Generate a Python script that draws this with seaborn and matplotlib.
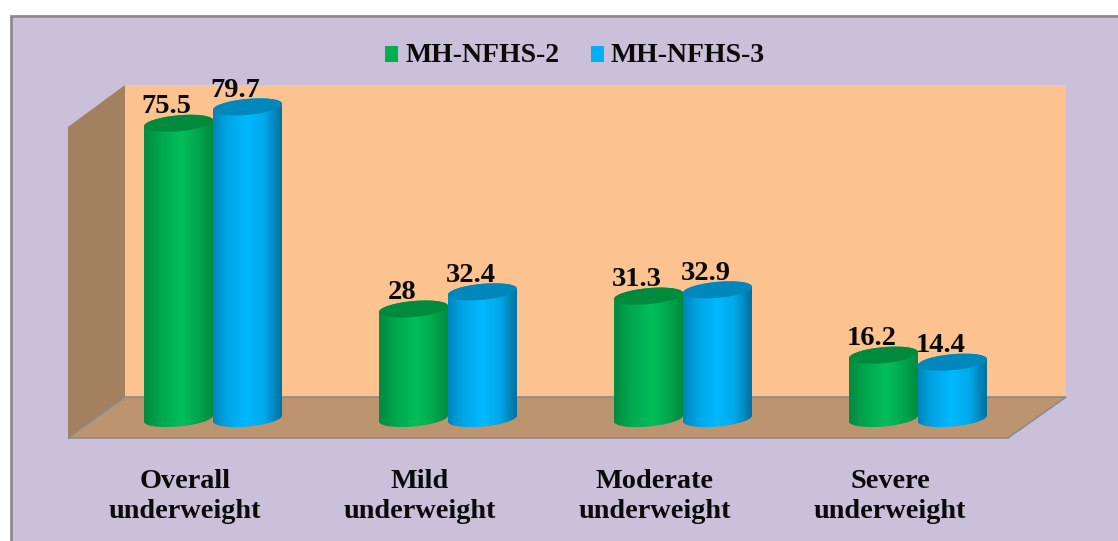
import numpy as np
import pandas as pd
import matplotlib
matplotlib.use("Agg")
import matplotlib.pyplot as plt
from matplotlib.patches import Polygon, Rectangle
from matplotlib.transforms import ScaledTranslation
from matplotlib.colors import LinearSegmentedColormap
import seaborn as sns

# Survey values (per cent)
categories = ["Overall\nunderweight", "Mild\nunderweight", "Moderate\nunderweight", "Severe\nunderweight"]
nfhs2 = [75.5, 28, 31.3, 16.2]
nfhs3 = [79.7, 32.4, 32.9, 14.4]
series_names = ["MH-NFHS-2", "MH-NFHS-3"]

W, H = 1118, 541
PANEL = "#CAC0DA"
WALL = "#FCC28F"
SIDE = "#A38060"
FLOOR = "#BC946F"
EDGE = "#8C8C8C"
SERIF = ["Liberation Serif", "DejaVu Serif"]

shades = {
    "MH-NFHS-2": dict(base="#00B050",
                      ramp=[(0, "#008A40"), (0.25, "#00A84E"), (0.55, "#00BE5A"), (0.8, "#00A54C"), (1, "#008A40")],
                      top="#008A3E"),
    "MH-NFHS-3": dict(base="#00B0F0",
                      ramp=[(0, "#0085BC"), (0.2, "#00A4E4"), (0.5, "#00B8FF"), (0.75, "#00A8EA"), (1, "#006F9C")],
                      top="#0088BC"),
}

sns.set_theme(style="white")
plt.rcParams["font.family"] = SERIF
plt.rcParams["font.weight"] = "bold"


def fx(px):
    return px / W


def fy(py):
    return 1 - py / H


fig = plt.figure(figsize=(W / 100, H / 100), dpi=100, facecolor="white")

# Axes spanning the chart box: x runs 235 px per category, y 3.91 px per percentage point
left, right, top, bottom = 68, 1066, 16, 438
ax = fig.add_axes([fx(left), fy(bottom), fx(right - left), (bottom - top) / H])
ax.patch.set_visible(False)
PX_X, PX_Y = 235.0, 3.91
ORIGIN_X, ORIGIN_Y = 213.0, 418.5

df = pd.DataFrame({
    "category": categories * 2,
    "value": nfhs2 + nfhs3,
    "series": [series_names[0]] * 4 + [series_names[1]] * 4,
})
sns.barplot(data=df, x="category", y="value", hue="series", hue_order=series_names,
            palette=[shades[n]["base"] for n in series_names],
            width=0.587, gap=0, dodge=True, saturation=1, err_kws={"linewidth": 0}, ax=ax)

ax.set_xlim((left - ORIGIN_X) / PX_X, (right - ORIGIN_X) / PX_X)
ax.set_ylim((ORIGIN_Y - bottom) / PX_Y, (ORIGIN_Y - top) / PX_Y)
ax.autoscale(False)

# Panel, walls and floor of the 3-D box, placed in figure space behind the axes
fig_tf = fig.transFigure
scenery = [
    (Rectangle((fx(10.5), fy(560)), fx(1130), 544 / H), PANEL, EDGE, 2.0),
    (Polygon([(fx(125), fy(85)), (fx(1066), fy(85)), (fx(1066), fy(397)), (fx(125), fy(397))]), WALL, "none", 0),
    (Polygon([(fx(68), fy(127)), (fx(125), fy(85)), (fx(125), fy(397)), (fx(68), fy(438))]), SIDE, "none", 0),
    (Polygon([(fx(68), fy(438)), (fx(125), fy(397)), (fx(1066), fy(397)), (fx(1008), fy(438))]), FLOOR, EDGE, 1.2),
]
for patch, face, edge, lw in scenery:
    patch.set(transform=fig_tf, facecolor=face, edgecolor=edge, linewidth=lw, clip_on=True, zorder=-5)
    fig.add_artist(patch)

# Cylinders: each seaborn bar gets a shaded body and an elliptical cap
Z = 3
theta = np.linspace(0, 2 * np.pi, 181)
semi_minor = 8.0 / PX_Y
tilt = 3.0 / PX_Y
for container, name in zip(ax.containers, series_names):
    style = shades[name]
    cmap = LinearSegmentedColormap.from_list(name, style["ramp"])
    grad = np.linspace(0, 1, 256).reshape(1, -1)
    for bar in container:
        x0, w, h = bar.get_x(), bar.get_width(), bar.get_height()
        cx = x0 + w / 2
        bar.set_visible(False)
        t_low = np.linspace(np.pi, 2 * np.pi, 91)
        outline_low = np.c_[cx + w / 2 * np.cos(t_low), semi_minor * np.sin(t_low) + tilt * np.cos(t_low)]
        t_up = np.linspace(0, np.pi, 91)
        outline_up = np.c_[cx + w / 2 * np.cos(t_up), h + semi_minor * np.sin(t_up) + tilt * np.cos(t_up)]
        body = Polygon(np.r_[outline_low, outline_up], closed=True, transform=ax.transData)
        im = ax.imshow(grad, extent=(x0, x0 + w, -semi_minor * 2, h + semi_minor * 2),
                       aspect="auto", cmap=cmap, zorder=Z, interpolation="bilinear")
        im.set_clip_path(body)
        cap = np.c_[cx + w / 2 * np.cos(theta), h + semi_minor * np.sin(theta) + tilt * np.cos(theta)]
        ax.add_patch(Polygon(cap, closed=True, facecolor=style["top"], edgecolor="none", zorder=Z + 0.5))
        ax.annotate(f"{h:g}", xy=(cx, h), xytext=(-8.5, 7.4), textcoords="offset points",
                    ha="center", va="baseline", fontsize=20.5, fontweight="bold",
                    color="#0A0A0A", family=SERIF, zorder=20, annotation_clip=False)
    Z += 1

ax.set_xlabel("")
ax.set_ylabel("")
ax.set_yticks([])
sns.despine(ax=ax, left=True, bottom=True)
ax.tick_params(axis="x", length=0, pad=22.2)
shift = ScaledTranslation(-28 / 100, 0, fig.dpi_scale_trans)
for label in ax.get_xticklabels():
    label.set(fontsize=20.3, fontweight="bold", family=SERIF, color="#0A0A0A", linespacing=1.25)
    label.set_transform(label.get_transform() + shift)

# Legend uses the handles seaborn generated for the hue levels
sns.move_legend(ax, "center", bbox_to_anchor=(fx(575), fy(55)), bbox_transform=fig_tf,
                ncol=2, frameon=False, title=None, fontsize=20, handlelength=0.48,
                handleheight=0.5, handletextpad=0.25, columnspacing=1.12)
for handle in ax.get_legend().legend_handles:
    handle.set_edgecolor("none")
    handle.set_y(handle.get_y() - 2)
for text in ax.get_legend().get_texts():
    text.set(fontweight="bold", family=SERIF, color="#0A0A0A")

fig.savefig("out.png", dpi=100, facecolor="white")
